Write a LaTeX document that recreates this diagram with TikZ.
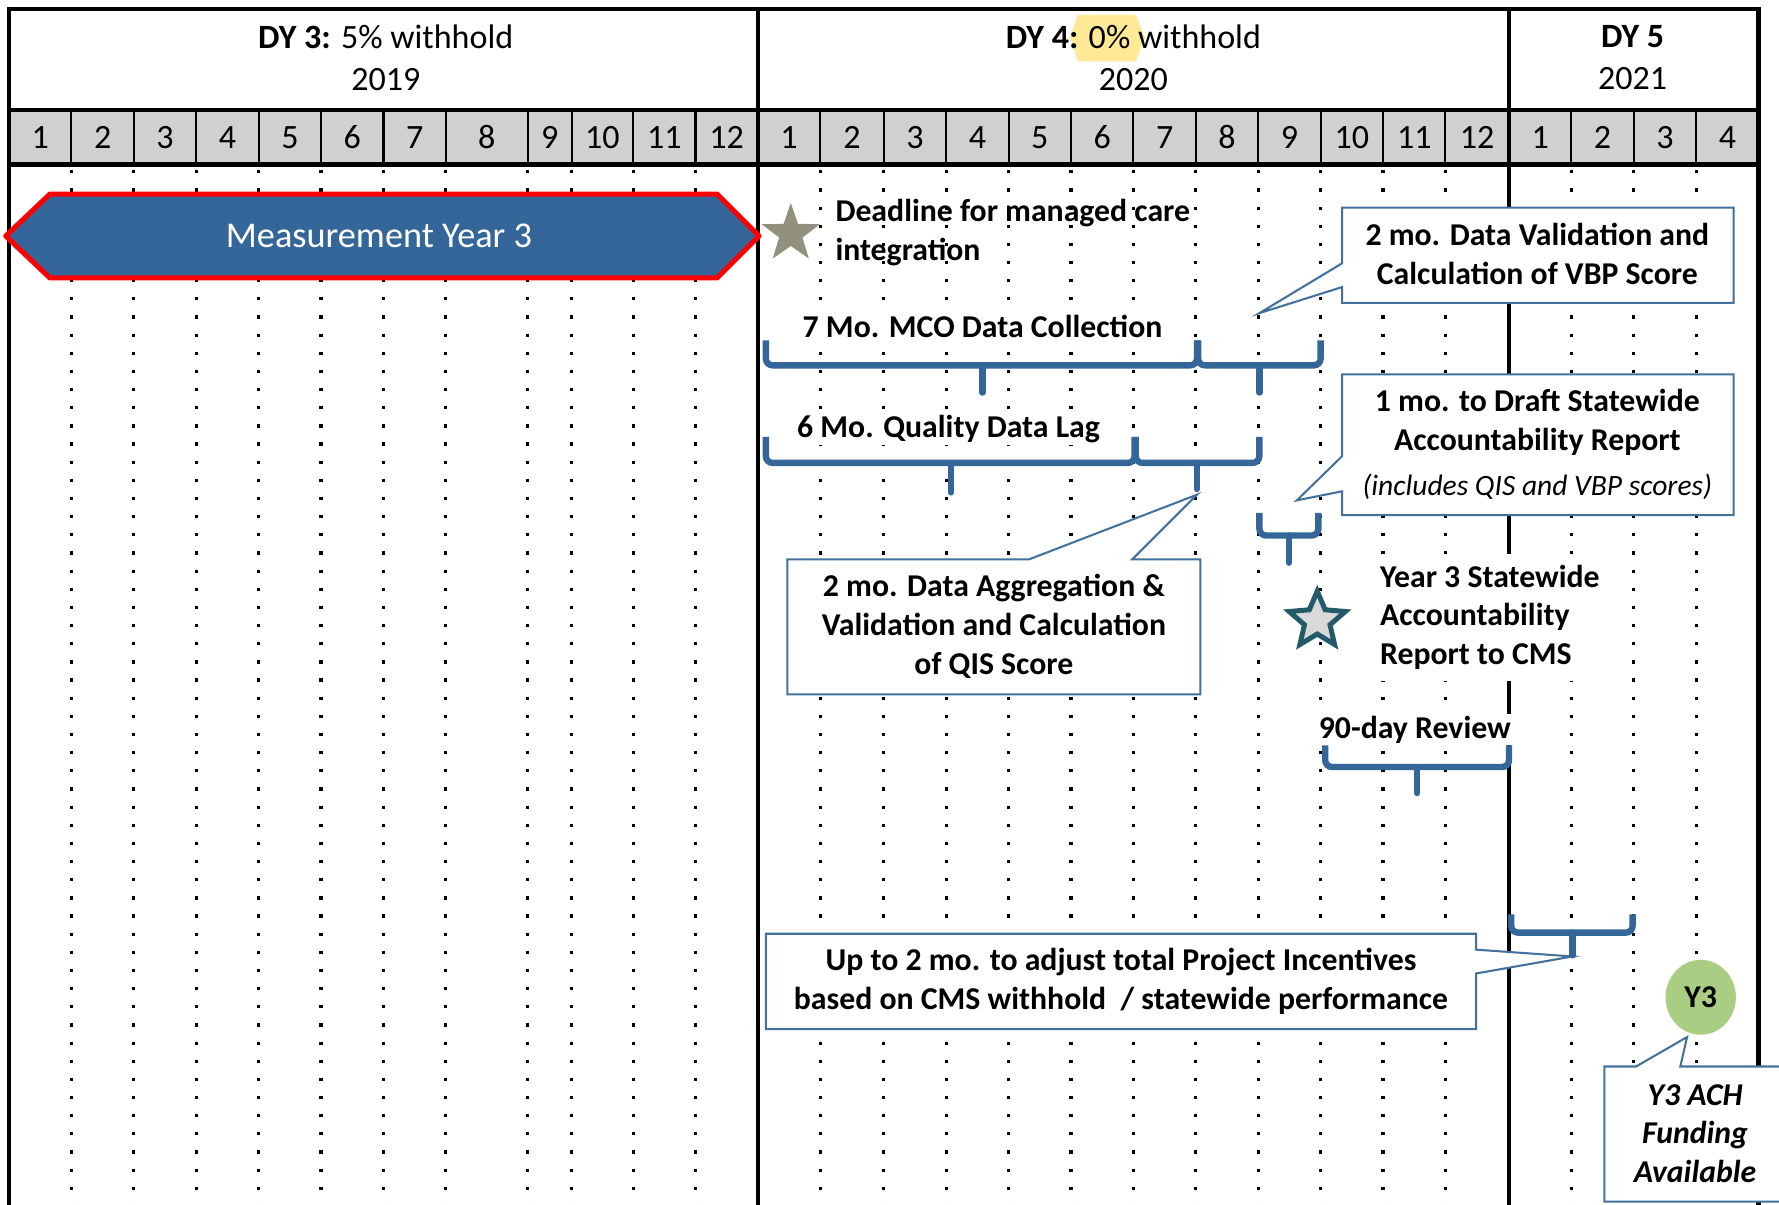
\documentclass[tikz,border=0pt]{standalone}
\usepackage{fontspec}
\setmainfont{Carlito}
\usetikzlibrary{shapes.geometric}
\definecolor{barblue}{RGB}{52,102,153}
\definecolor{calloutblue}{RGB}{65,113,156}
\definecolor{monthgray}{RGB}{208,208,208}
\definecolor{stargray}{RGB}{145,145,125}
\definecolor{starteal}{RGB}{35,90,105}
\definecolor{starfill}{RGB}{217,217,217}
\definecolor{ygreen}{RGB}{169,205,130}
\definecolor{hiyellow}{RGB}{255,232,150}
\tikzset{
  frameline/.style={line width=2pt},
  monthline/.style={line width=0.9pt},
  dotline/.style={line width=1.4pt, dash pattern=on 1.4pt off 6.6pt},
  brace/.style={draw=barblue, line width=2.8pt, rounded corners=3pt},
  bracetip/.style={draw=barblue, line width=2.8pt, line cap=round},
  callout/.style={draw=calloutblue, line width=0.9pt, fill=white},
  hdr/.style={font=\fontsize{15}{18.5}\selectfont, align=center},
  month/.style={font=\fontsize{15}{18}\selectfont},
  lbl/.style={font=\fontsize{14}{17}\selectfont\bfseries, inner sep=1pt}
}
\begin{document}
\begin{tikzpicture}[x=0.5pt,y=-0.5pt]
  \useasboundingbox (0,0) rectangle (1568,1062);
  \clip (0,0) rectangle (1568,1062);
  \fill[white] (0,0) rectangle (1568,1062);

  \fill[monthgray] (8,97) rectangle (1550,145);
  \fill[hiyellow] (950,13) -- (1001,13) -- (1009,33) -- (1001,54) -- (950,54) -- (943,33) -- cycle;

  \draw[dotline]
    (63,150) -- (63,1070) (118,150) -- (118,1070) (173,150) -- (173,1070)
    (228,150) -- (228,1070) (283,150) -- (283,1070) (338,150) -- (338,1070)
    (393,150) -- (393,1070) (465,150) -- (465,1070) (504,150) -- (504,1070)
    (558,150) -- (558,1070) (613,150) -- (613,1070)
    (723,150) -- (723,1070) (779,150) -- (779,1070) (834,150) -- (834,1070)
    (889,150) -- (889,1070) (944,150) -- (944,1070) (999,150) -- (999,1070)
    (1054,150) -- (1054,1070) (1109,150) -- (1109,1070) (1164,150) -- (1164,1070)
    (1219,150) -- (1219,1070) (1274,150) -- (1274,1070)
    (1385,150) -- (1385,1070) (1440,150) -- (1440,1070) (1495,150) -- (1495,1070);

  \draw[monthline]
    (63,97) -- (63,145) (118,97) -- (118,145) (173,97) -- (173,145)
    (228,97) -- (228,145) (283,97) -- (283,145) (338,97) -- (338,145)
    (393,97) -- (393,145) (465,97) -- (465,145) (504,97) -- (504,145)
    (558,97) -- (558,145) (613,97) -- (613,145)
    (723,97) -- (723,145) (779,97) -- (779,145) (834,97) -- (834,145)
    (889,97) -- (889,145) (944,97) -- (944,145) (999,97) -- (999,145)
    (1054,97) -- (1054,145) (1109,97) -- (1109,145) (1164,97) -- (1164,145)
    (1219,97) -- (1219,145) (1274,97) -- (1274,145)
    (1385,97) -- (1385,145) (1440,97) -- (1440,145) (1495,97) -- (1495,145);

  \draw[frameline] (8,1070) -- (8,8) -- (1550,8) -- (1550,1070);
  \draw[frameline] (8,97) -- (1550,97) (8,145) -- (1550,145);
  \draw[frameline] (668,8) -- (668,1070) (1330,8) -- (1330,1070);

  \node[hdr] (dy3) at (340,51) {\textbf{DY 3:} 5\% withhold\\2019};
  \node[hdr] (dy4) at (999,51) {\textbf{DY 4:} 0\% withhold\\2020};
  \node[hdr] (dy5) at (1439,51) {\textbf{DY 5}\\2021};

  \path[month]
    (35.5,121) node (a1){1} (90.5,121) node (a2){2} (145.5,121) node (a3){3}
    (200.5,121) node (a4){4} (255.5,121) node (a5){5} (310.5,121) node (a6){6}
    (365.5,121) node (a7){7} (429,121) node (a8){8} (484.5,121) node (a9){9}
    (531,121) node (a10){10} (585.5,121) node (a11){11} (640.5,121) node (a12){12}
    (695.5,121) node (b1){1} (751,121) node (b2){2} (806.5,121) node (b3){3}
    (861.5,121) node (b4){4} (916.5,121) node (b5){5} (971.5,121) node (b6){6}
    (1026.5,121) node (b7){7} (1081.5,121) node (b8){8} (1136.5,121) node (b9){9}
    (1191.5,121) node (b10){10} (1246.5,121) node (b11){11} (1302,121) node (b12){12}
    (1357.5,121) node (c1){1} (1412.5,121) node (c2){2} (1467.5,121) node (c3){3}
    (1522.5,121) node (c4){4};

  \draw[fill=barblue, draw=red, line width=2.2pt, line join=round]
    (5,208) -- (44,171) -- (632,171) -- (669,208) -- (632,245) -- (44,245) -- cycle;
  \node[text=white, font=\fontsize{16}{19}\selectfont] (my3) at (334,208) {Measurement Year 3};

  \node[star, star points=5, star point ratio=2.5, fill=stargray, minimum size=27pt, inner sep=0pt] (deadstar) at (697,206) {};
  \node[lbl, anchor=west, align=left] (deadline) at (734,205) {Deadline for managed care\\integration};

  \coordinate (vbptip) at (1110,276);
  \coordinate (qistip) at (1055,436);
  \coordinate (drafttip) at (1143,441);
  \coordinate (adjtip) at (1386,843);
  \coordinate (achtip) at (1487,914);

  \draw[callout] (1183,183) -- (1528,183) -- (1528,267) -- (1183,267) -- (1183,253) -- (vbptip) -- (1183,232) -- cycle;
  \node[lbl, align=center] (vbp) at (1355,224) {2 mo. Data Validation and\\Calculation of VBP Score};

  \draw[callout] (1183,330) -- (1528,330) -- (1528,454) -- (1183,454) -- (1183,433) -- (drafttip) -- (1183,402) -- cycle;
  \node[lbl, align=center] (draft) at (1355,392) {1 mo. to Draft Statewide\\Accountability Report\\[3pt]{\fontsize{13}{16}\selectfont\mdseries\itshape (includes QIS and VBP scores)}};

  \draw[callout] (694,493) -- (907,493) -- (qistip) -- (998,493) -- (1058,493) -- (1058,612) -- (694,612) -- cycle;
  \node[lbl, align=center] (qis) at (876,552) {2 mo. Data Aggregation \&\\Validation and Calculation\\of QIS Score};

  \draw[callout] (675,823) -- (1301,823) -- (1301,837) -- (adjtip) -- (1301,858) -- (1301,907) -- (675,907) -- cycle;
  \node[lbl, align=center] (adjust) at (988,865) {Up to 2 mo. to adjust total Project Incentives\\based on CMS withhold~~/ statewide performance};

  \draw[callout] (1414,940) -- (1442,940) -- (achtip) -- (1481,940) -- (1590,940) -- (1590,1059) -- (1414,1059) -- cycle;
  \node[lbl, align=center, font=\fontsize{14}{17}\selectfont\bfseries\itshape] (ach) at (1494,999) {Y3 ACH\\Funding\\Available};

  \node[lbl, fill=white] (mco) at (866,288) {7 Mo. MCO Data Collection};
  \node[lbl, fill=white] (lag) at (836,378) {6 Mo. Quality Data Lag};
  \node[lbl, anchor=west, align=left, fill=white, inner sep=5pt] (report) at (1206,544) {Year 3 Statewide\\Accountability\\Report to CMS};
  \node[lbl, fill=white] (review) at (1247,643) {90-day Review};

  \node[star, star points=5, star point ratio=2.2, draw=starteal, fill=starfill, line width=2.2pt, minimum size=26pt, inner sep=0pt] (repstar) at (1161,547) {};
  \node[ellipse, fill=ygreen, minimum width=31pt, minimum height=33pt, inner sep=0pt, font=\fontsize{14}{17}\selectfont\bfseries] (y3) at (1499,879) {Y3};

  \draw[brace] (675,300) -- (675,322) -- (1055,322) -- (1055,300);
  \draw[bracetip] (866,322) -- (866,346);
  \draw[brace] (1056,300) -- (1056,322) -- (1164,322) -- (1164,300);
  \draw[bracetip] (1110,322) -- (1110,346);

  \draw[brace] (675,385) -- (675,408) -- (1000,408) -- (1000,385);
  \draw[bracetip] (838,408) -- (838,434);
  \draw[brace] (1001,385) -- (1001,408) -- (1110,408) -- (1110,385);
  \draw[bracetip] (1055,408) -- (1055,431);

  \draw[brace] (1110,452) -- (1110,472) -- (1162,472) -- (1162,452);
  \draw[bracetip] (1136,472) -- (1136,496);

  \draw[brace] (1168,657) -- (1168,676) -- (1330,676) -- (1330,657);
  \draw[bracetip] (1249,676) -- (1249,699);

  \draw[brace] (1332,806) -- (1332,822) -- (1439,822) -- (1439,806);
  \draw[bracetip] (1386,822) -- (1386,842);
\end{tikzpicture}
\end{document}
